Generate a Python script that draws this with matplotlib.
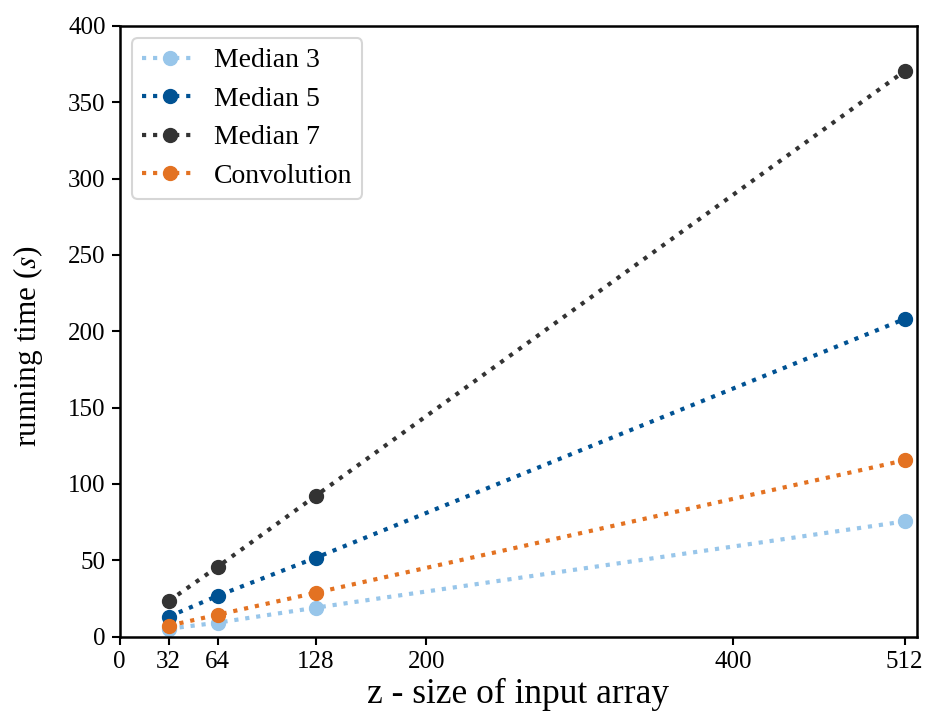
import matplotlib
matplotlib.use("Agg")
import matplotlib.pyplot as plt

plt.rcParams['font.family'] = ['Liberation Serif', 'DejaVu Serif']
plt.rcParams['mathtext.fontset'] = 'stix'

sizes = [32, 64, 128, 512]
median3 = [5.2, 9.2, 19.0, 75.5]
median5 = [13.1, 26.8, 51.7, 208.0]
median7 = [23.3, 45.8, 92.3, 370.3]
convolution = [7.2, 14.4, 28.8, 115.5]
xticks = [0, 32, 64, 128, 200, 400, 512]

series = [
    ('Median 3', median3, '#98C6EA'),
    ('Median 5', median5, '#005293'),
    ('Median 7', median7, '#333333'),
    ('Convolution', convolution, '#E37222'),
]

fig = plt.figure(figsize=(9.27, 7.17), dpi=100)
ax = fig.add_axes([0.129, 0.112, 0.860, 0.852])

for name, vals, color in series:
    ax.plot(sizes, vals, linestyle=':', linewidth=3, marker='o', markersize=10,
            color=color, label=name)

ax.set_xlim(0, 520)
ax.set_ylim(0, 400)
ax.set_xticks(xticks)
ax.tick_params(labelsize=18, width=1.5, length=6, direction='out', pad=4)
for s in ax.spines.values():
    s.set_linewidth(1.8)

ax.set_xlabel('z - size of input array', fontsize=25.5)
ax.set_ylabel('running time ($s$)', fontsize=22.5)
ax.xaxis.set_label_coords(0.5, -0.068)
ax.yaxis.set_label_coords(-0.094, 0.476)

leg = ax.legend(loc='upper left', fontsize=20, frameon=True, fancybox=True,
                handlelength=2.0, borderpad=0.35, labelspacing=0.47,
                borderaxespad=0.45, handletextpad=0.6)
leg.get_frame().set_edgecolor('#cccccc')
leg.get_frame().set_linewidth(1.5)

fig.savefig('out.png', dpi=100)
